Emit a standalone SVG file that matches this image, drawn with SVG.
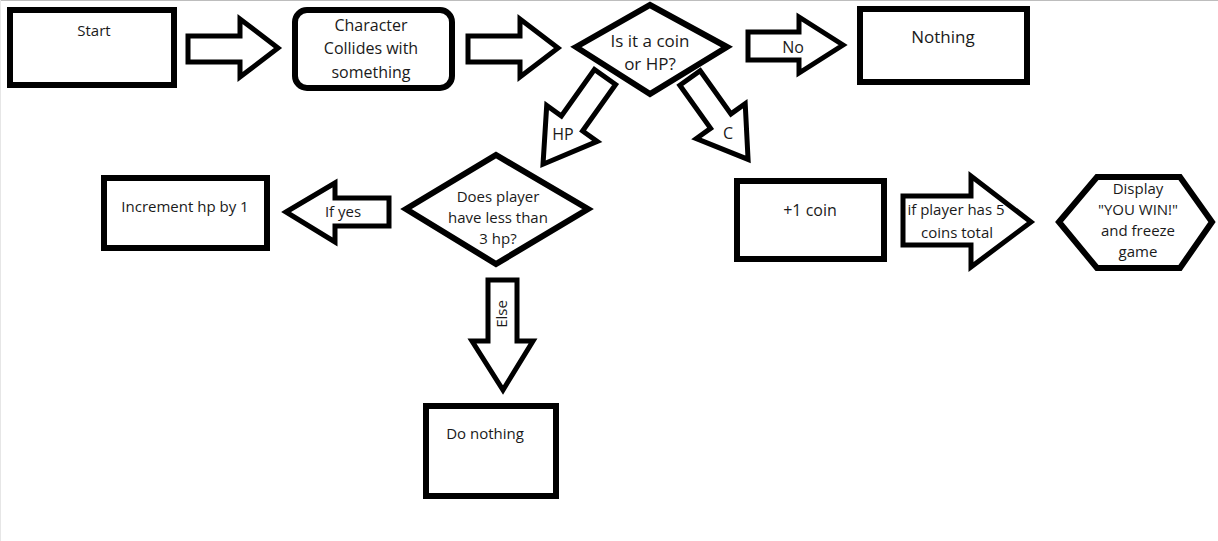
<svg xmlns="http://www.w3.org/2000/svg" width="1218" height="541" viewBox="0 0 1218 541">
<style>
.box{fill:#fff;stroke:#000;stroke-width:6}
.arr{fill:#fff;stroke:#000;stroke-width:5;stroke-linejoin:miter;stroke-miterlimit:10}
text{font-family:"Open Sans","Noto Sans","DejaVu Sans",sans-serif;font-size:15px;fill:#1a1a1a;text-anchor:middle;dominant-baseline:central}
.big{font-size:17px}
.mid{font-size:16px}
</style>
<rect x="0" y="0" width="1218" height="541" fill="#fff"/>
<line x1="0" y1="0.5" x2="1218" y2="0.5" stroke="#bdbdbd" stroke-width="1"/>
<line x1="0.5" y1="0" x2="0.5" y2="541" stroke="#e6e6e6" stroke-width="1"/>
<g id="connectors">
<g id="arrow-start-char"><polygon class="arr" points="188,36 240,36 240,19 278,48 240,77 240,62 188,62"/></g>
<g id="arrow-char-q"><polygon class="arr" points="468,36 520,36 520,19 558,48 520,77 520,62 468,62"/></g>
<g id="arrow-no"><polygon class="arr" points="748,32 799,32 799,17 843,45 799,73 799,60 748,60"/><text class="mid" x="793" y="47">No</text></g>
<g id="arrow-hp"><polygon class="arr" transform="translate(605,77) rotate(125.4)" points="0,-13 57,-13 57,-31 107,0 57,31 57,13 0,13"/><text class="mid" x="563" y="134">HP</text></g>
<g id="arrow-c"><polygon class="arr" transform="translate(690,78) rotate(54.5)" points="0,-12.5 53,-12.5 53,-30 100,0 53,30 53,12.5 0,12.5"/><text class="mid" x="728" y="133">C</text></g>
<g id="arrow-yes"><polygon class="arr" points="286,212 335,183 335,198 389,198 389,226 335,226 335,242"/><text x="343" y="211">If yes</text></g>
<g id="arrow-else"><polygon class="arr" points="488,280 517,280 517,341 533,341 503,390 472,341 488,341"/><text x="501" y="314" transform="rotate(-90 501 314)">Else</text></g>
<g id="arrow-coins"><polygon class="arr" points="903,196 971,196 971,176 1031,222 971,267 971,245 903,245"/><text x="956" y="209">if player has 5</text><text x="957" y="232">coins total</text></g>
</g>
<g id="start"><rect class="box" x="10" y="10" width="164" height="75"/><text x="94" y="30">Start</text></g>
<g id="character"><rect class="box" x="295" y="10" width="157" height="78" rx="12" ry="12"/><text class="mid" x="371" y="25">Character</text><text class="mid" x="371" y="48">Collides with</text><text class="mid" x="371" y="72">something</text></g>
<g id="question"><polygon class="box" points="576,47 650,5 727,47 650,94"/><text class="big" x="650" y="40">Is it a coin</text><text class="big" x="650" y="63">or HP?</text></g>
<g id="nothing"><rect class="box" x="860" y="9" width="167" height="73"/><text class="big" x="943" y="36">Nothing</text></g>
<g id="hpcheck"><polygon class="box" points="406,209 496,155 588,209 496,264"/><text x="498" y="196">Does player</text><text x="498" y="217">have less than</text><text x="498" y="238">3 hp?</text></g>
<g id="increment"><rect class="box" x="104" y="178" width="163" height="70"/><text x="185" y="206">Increment hp by 1</text></g>
<g id="donothing"><rect class="box" x="426" y="406" width="130" height="90"/><text x="485" y="433">Do nothing</text></g>
<g id="coin"><rect class="box" x="737" y="181" width="147" height="78"/><text class="mid" x="810" y="210">+1 coin</text></g>
<g id="win"><polygon class="box" points="1059,222 1097,177 1180,177 1212,222 1180,268 1097,268"/><text x="1138" y="188">Display</text><text x="1138" y="209">"YOU WIN!"</text><text x="1138" y="230">and freeze</text><text x="1138" y="251">game</text></g>
</svg>
